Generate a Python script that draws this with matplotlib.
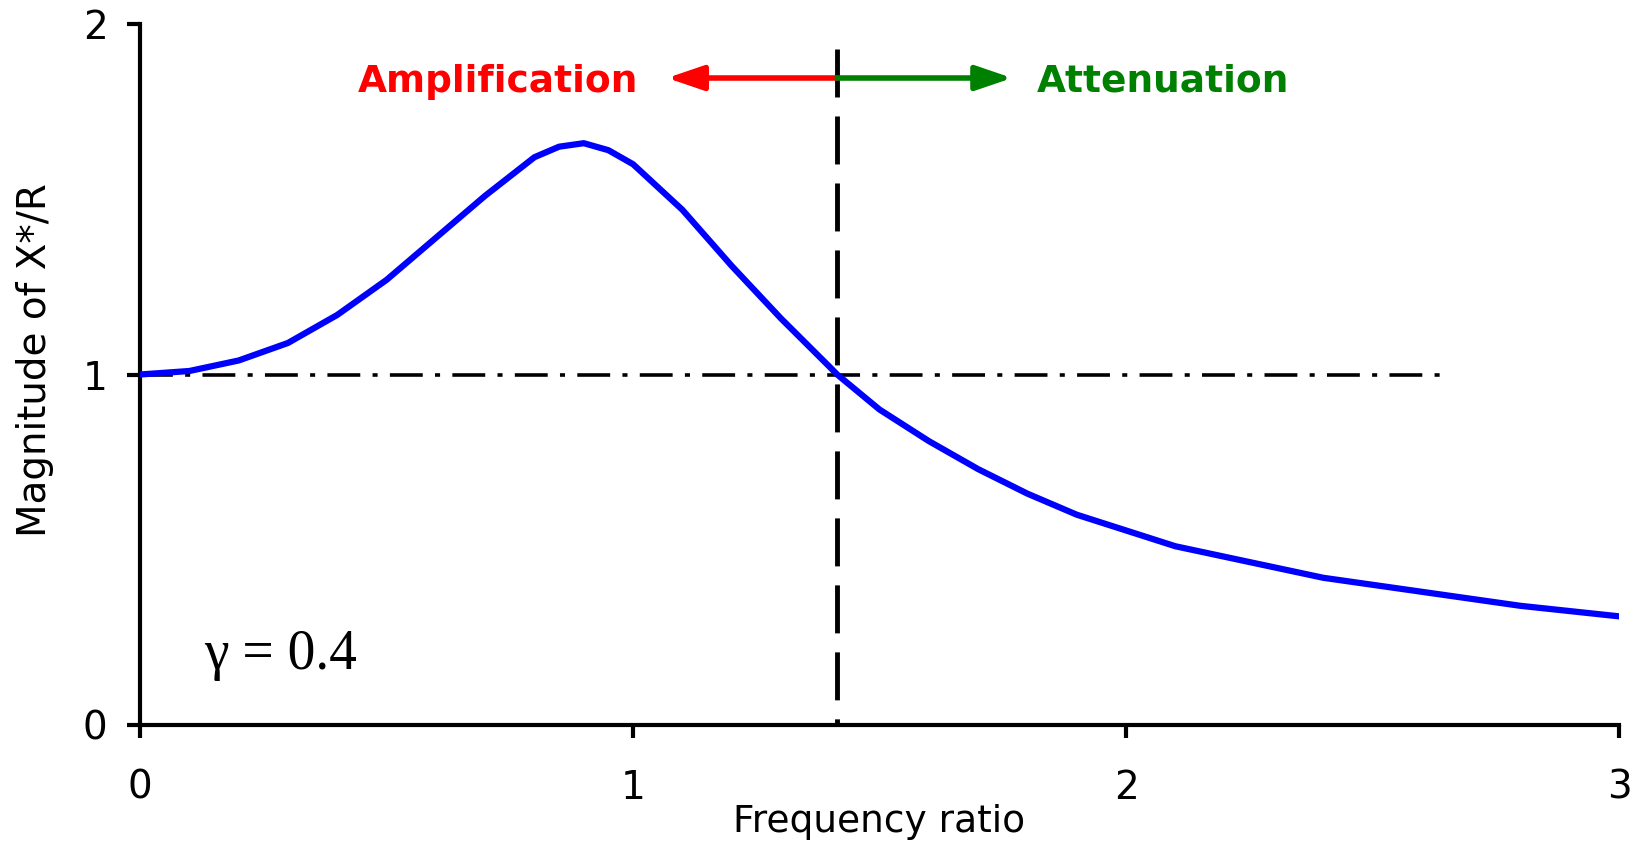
import numpy as np
import matplotlib.pyplot as plt

# frequency ratio vs magnitude of X*/R
ratio = [0.0, 0.1, 0.2, 0.3, 0.4, 0.5, 0.6, 0.7, 0.8, 0.85, 0.9, 0.95, 1.0,
         1.1, 1.2, 1.3, 1.4, 1.414, 1.5, 1.6, 1.7, 1.8, 1.9, 2.0, 2.1, 2.2,
         2.3, 2.4, 2.5, 2.6, 2.7, 2.8, 2.9, 3.0]
magnitude = [1.0, 1.01, 1.04, 1.09, 1.17, 1.27, 1.39, 1.51, 1.62, 1.65, 1.66,
             1.64, 1.60, 1.47, 1.31, 1.16, 1.02, 1.0, 0.90, 0.81, 0.73, 0.66,
             0.60, 0.555, 0.51, 0.48, 0.45, 0.42, 0.40, 0.38, 0.36, 0.34,
             0.325, 0.31]
x_ticks = [0, 1, 2, 3]
y_ticks = [0, 1, 2]
crossover = 1.414
unity_end = 2.64
arrow_y = 1.846
amp_tip = 1.069
att_tip = 1.769

fig = plt.figure(figsize=(16.44, 8.43), dpi=100)
ax = fig.add_axes([0.0852, 0.140, 0.8996, 0.8315])

ax.plot(ratio, magnitude, color='#0000ff', lw=4.5, zorder=3)
ax.plot([0, unity_end], [1, 1], color='black', lw=2.6,
        linestyle=(0, (9.1, 3.4, 1.4, 3.4)), zorder=2)
ax.plot([crossover, crossover], [1.93, 0], color='black', lw=3.5,
        linestyle=(0, (9.87, 3.91)), zorder=2)

ax.annotate('', xy=(amp_tip, arrow_y), xytext=(crossover, arrow_y),
            arrowprops=dict(arrowstyle='-|>,head_length=2.2,head_width=0.75',
                            color='red', lw=4, mutation_scale=10,
                            shrinkA=0, shrinkB=0))
ax.annotate('', xy=(att_tip, arrow_y), xytext=(crossover, arrow_y),
            arrowprops=dict(arrowstyle='-|>,head_length=2.2,head_width=0.75',
                            color='green', lw=4, mutation_scale=10,
                            shrinkA=0, shrinkB=0))

ax.text(0.727, 1.835, 'Amplification', color='red', fontsize=27,
        fontweight='bold', ha='center', va='center')
ax.text(2.076, 1.835, 'Attenuation', color='green', fontsize=27,
        fontweight='bold', ha='center', va='center')
ax.text(0.13, 0.16, 'γ = 0.4', family='Liberation Serif', fontsize=40,
        ha='left', va='baseline')

ax.set_xlim(0, 3)
ax.set_ylim(0, 2)
ax.set_xticks(x_ticks)
ax.set_yticks(y_ticks)
ax.tick_params(axis='both', labelsize=28, length=9.4, width=3)
ax.tick_params(axis='x', pad=22)
ax.tick_params(axis='y', pad=14)
for s in ['top', 'right']:
    ax.spines[s].set_visible(False)
for s in ['left', 'bottom']:
    ax.spines[s].set_linewidth(3)

ax.set_xlabel('Frequency ratio', fontsize=27, labelpad=-2)
ax.set_ylabel('Magnitude of X*/R', fontsize=28)
ax.yaxis.set_label_coords(-0.058, 0.52)

fig.savefig('out.png', dpi=100)
